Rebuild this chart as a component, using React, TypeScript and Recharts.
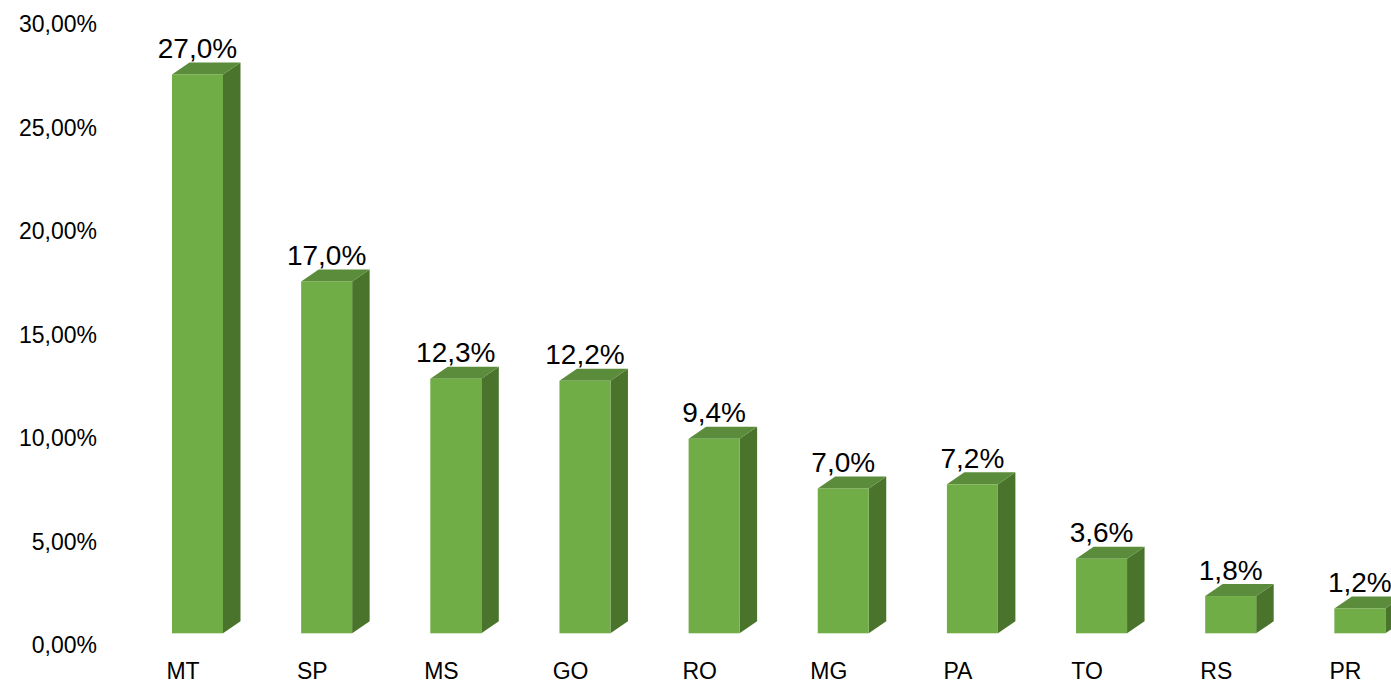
import React from 'react';
import { BarChart, Bar, XAxis, YAxis, LabelList } from 'recharts';

// States and their share (%)
const STATES = ['MT', 'SP', 'MS', 'GO', 'RO', 'MG', 'PA', 'TO', 'RS', 'PR'];
const SHARES = [27.0, 17.0, 12.3, 12.2, 9.4, 7.0, 7.2, 3.6, 1.8, 1.2];
const Y_TICKS = [0, 5, 10, 15, 20, 25, 30];

const data = STATES.map((state, i) => ({ state, share: SHARES[i] }));

const FRONT = '#70AD47';
const TOP = '#5B8C3B';
const SIDE = '#4A742B';
const FONT = '"Liberation Sans", Arial, sans-serif';

// 3D look: front face lifted off the zero line, depth going up-right
const LIFT = 11.7;
const SHIFT = 14.5;
const DX = 17.5;
const DY = -12;

const fmtTick = (v: number) => v.toFixed(2).replace('.', ',') + '%';
const fmtLabel = (v: number) => v.toFixed(1).replace('.', ',') + '%';

const Box3D = (props: any) => {
    const { x, y, width, height } = props;
    const left = x + SHIFT;
    const right = left + width;
    const top = y - LIFT;
    const bottom = y + height - LIFT;
    return (
        <g>
            <polygon
                points={`${right},${top} ${right + DX},${top + DY} ${right + DX},${bottom + DY} ${right},${bottom}`}
                fill={SIDE}
            />
            <polygon
                points={`${left},${top} ${right},${top} ${right + DX},${top + DY} ${left + DX},${top + DY}`}
                fill={TOP}
            />
            <rect x={left} y={top} width={width} height={height} fill={FRONT} />
        </g>
    );
};

const YTick = (props: any) => {
    const { y, payload } = props;
    return (
        <text x={97} y={y} dy="0.35em" textAnchor="end" fontSize={23} fontFamily={FONT} fill="#000">
            {fmtTick(payload.value)}
        </text>
    );
};

const XTick = (props: any) => {
    const { x, payload } = props;
    return (
        <text x={x} y={679} textAnchor="middle" fontSize={23} fontFamily={FONT} fill="#000">
            {payload.value}
        </text>
    );
};

const TopLabel = (props: any) => {
    const { x, y, width, value } = props;
    return (
        <text
            x={x + SHIFT + width / 2}
            y={y - LIFT - 16.5}
            textAnchor="middle"
            fontSize={28}
            fontFamily={FONT}
            fill="#000"
        >
            {fmtLabel(value)}
        </text>
    );
};

export default function App() {
    return (
        <div style={{ position: 'absolute', left: 0, top: 0, width: 1391, height: 684, overflow: 'hidden', background: '#fff' }}>
            <BarChart
                width={1410}
                height={684}
                data={data}
                margin={{ top: 24, right: 0, bottom: 0, left: 0 }}
                barSize={51}
            >
                <XAxis
                    dataKey="state"
                    axisLine={false}
                    tickLine={false}
                    height={39}
                    interval={0}
                    tick={<XTick />}
                />
                <YAxis
                    domain={[0, 30]}
                    ticks={Y_TICKS}
                    axisLine={false}
                    tickLine={false}
                    width={118.5}
                    tick={<YTick />}
                />
                <Bar dataKey="share" shape={<Box3D />} isAnimationActive={false}>
                    <LabelList dataKey="share" content={<TopLabel />} />
                </Bar>
            </BarChart>
        </div>
    );
}
